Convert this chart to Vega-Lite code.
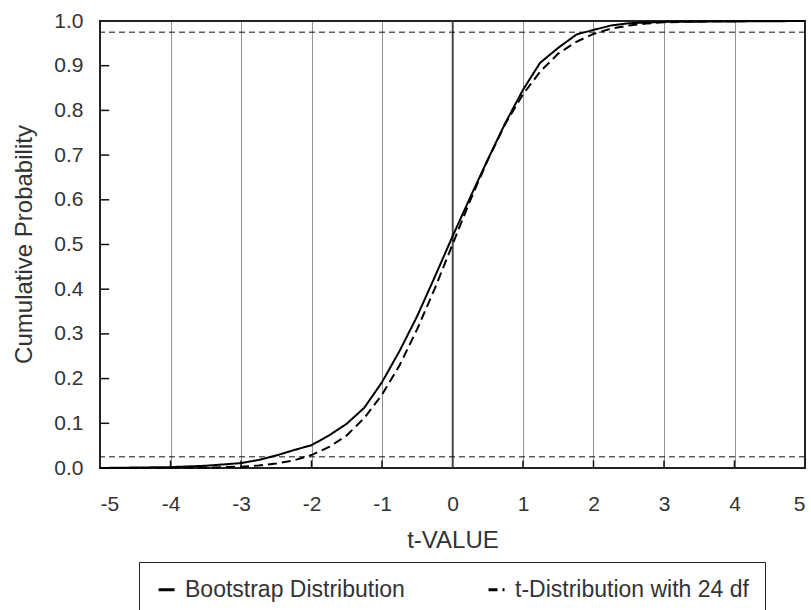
{
  "$schema": "https://vega.github.io/schema/vega-lite/v6.json",
  "width": 705,
  "height": 447,
  "autosize": {"type": "none"},
  "padding": {"left": 100, "top": 21, "right": 6, "bottom": 142},
  "background": "white",
  "config": {
    "view": {"stroke": "#222", "strokeWidth": 2},
    "font": "Liberation Sans",
    "axis": {
      "labelFont": "Liberation Sans",
      "titleFont": "Liberation Sans",
      "labelFontSize": 21,
      "titleFontSize": 24,
      "labelColor": "#333",
      "titleColor": "#333",
      "titleFontWeight": "normal",
      "domain": false,
      "ticks": false
    }
  },
  "datasets": {
    "curves": [
      {"t": -5, "p": 0.000, "series": "Bootstrap Distribution"},
      {"t": -4.5, "p": 0.001, "series": "Bootstrap Distribution"},
      {"t": -4, "p": 0.002, "series": "Bootstrap Distribution"},
      {"t": -3.5, "p": 0.005, "series": "Bootstrap Distribution"},
      {"t": -3, "p": 0.011, "series": "Bootstrap Distribution"},
      {"t": -2.75, "p": 0.018, "series": "Bootstrap Distribution"},
      {"t": -2.5, "p": 0.028, "series": "Bootstrap Distribution"},
      {"t": -2.25, "p": 0.040, "series": "Bootstrap Distribution"},
      {"t": -2, "p": 0.051, "series": "Bootstrap Distribution"},
      {"t": -1.75, "p": 0.073, "series": "Bootstrap Distribution"},
      {"t": -1.5, "p": 0.099, "series": "Bootstrap Distribution"},
      {"t": -1.25, "p": 0.135, "series": "Bootstrap Distribution"},
      {"t": -1, "p": 0.192, "series": "Bootstrap Distribution"},
      {"t": -0.75, "p": 0.262, "series": "Bootstrap Distribution"},
      {"t": -0.5, "p": 0.340, "series": "Bootstrap Distribution"},
      {"t": -0.25, "p": 0.428, "series": "Bootstrap Distribution"},
      {"t": 0, "p": 0.518, "series": "Bootstrap Distribution"},
      {"t": 0.25, "p": 0.605, "series": "Bootstrap Distribution"},
      {"t": 0.5, "p": 0.690, "series": "Bootstrap Distribution"},
      {"t": 0.75, "p": 0.772, "series": "Bootstrap Distribution"},
      {"t": 1, "p": 0.846, "series": "Bootstrap Distribution"},
      {"t": 1.24, "p": 0.906, "series": "Bootstrap Distribution"},
      {"t": 1.5, "p": 0.940, "series": "Bootstrap Distribution"},
      {"t": 1.76, "p": 0.970, "series": "Bootstrap Distribution"},
      {"t": 2, "p": 0.980, "series": "Bootstrap Distribution"},
      {"t": 2.25, "p": 0.990, "series": "Bootstrap Distribution"},
      {"t": 2.5, "p": 0.995, "series": "Bootstrap Distribution"},
      {"t": 3, "p": 0.998, "series": "Bootstrap Distribution"},
      {"t": 4, "p": 0.999, "series": "Bootstrap Distribution"},
      {"t": 5, "p": 1.000, "series": "Bootstrap Distribution"},
      {"t": -5, "p": 0.0000, "series": "t-Distribution with 24 df"},
      {"t": -4.5, "p": 0.0001, "series": "t-Distribution with 24 df"},
      {"t": -4, "p": 0.0003, "series": "t-Distribution with 24 df"},
      {"t": -3.5, "p": 0.0009, "series": "t-Distribution with 24 df"},
      {"t": -3, "p": 0.003, "series": "t-Distribution with 24 df"},
      {"t": -2.75, "p": 0.0055, "series": "t-Distribution with 24 df"},
      {"t": -2.5, "p": 0.010, "series": "t-Distribution with 24 df"},
      {"t": -2.25, "p": 0.017, "series": "t-Distribution with 24 df"},
      {"t": -2, "p": 0.029, "series": "t-Distribution with 24 df"},
      {"t": -1.75, "p": 0.047, "series": "t-Distribution with 24 df"},
      {"t": -1.5, "p": 0.073, "series": "t-Distribution with 24 df"},
      {"t": -1.25, "p": 0.112, "series": "t-Distribution with 24 df"},
      {"t": -1, "p": 0.164, "series": "t-Distribution with 24 df"},
      {"t": -0.75, "p": 0.230, "series": "t-Distribution with 24 df"},
      {"t": -0.5, "p": 0.311, "series": "t-Distribution with 24 df"},
      {"t": -0.25, "p": 0.402, "series": "t-Distribution with 24 df"},
      {"t": 0, "p": 0.500, "series": "t-Distribution with 24 df"},
      {"t": 0.25, "p": 0.598, "series": "t-Distribution with 24 df"},
      {"t": 0.5, "p": 0.689, "series": "t-Distribution with 24 df"},
      {"t": 0.75, "p": 0.770, "series": "t-Distribution with 24 df"},
      {"t": 1, "p": 0.836, "series": "t-Distribution with 24 df"},
      {"t": 1.25, "p": 0.888, "series": "t-Distribution with 24 df"},
      {"t": 1.5, "p": 0.927, "series": "t-Distribution with 24 df"},
      {"t": 1.75, "p": 0.953, "series": "t-Distribution with 24 df"},
      {"t": 2, "p": 0.971, "series": "t-Distribution with 24 df"},
      {"t": 2.25, "p": 0.983, "series": "t-Distribution with 24 df"},
      {"t": 2.5, "p": 0.990, "series": "t-Distribution with 24 df"},
      {"t": 2.75, "p": 0.9945, "series": "t-Distribution with 24 df"},
      {"t": 3, "p": 0.997, "series": "t-Distribution with 24 df"},
      {"t": 3.5, "p": 0.9991, "series": "t-Distribution with 24 df"},
      {"t": 4, "p": 0.9997, "series": "t-Distribution with 24 df"},
      {"t": 4.5, "p": 0.9999, "series": "t-Distribution with 24 df"},
      {"t": 5, "p": 1.0000, "series": "t-Distribution with 24 df"}
    ],
    "refs": [{"p": 0.025}, {"p": 0.975}],
    "zero": [{"t": 0}],
    "yticks": [{"p": 0.1}, {"p": 0.2}, {"p": 0.3}, {"p": 0.4}, {"p": 0.5}, {"p": 0.6}, {"p": 0.7}, {"p": 0.8}, {"p": 0.9}],
    "xticks": [{"t": -4}, {"t": -3}, {"t": -2}, {"t": -1}, {"t": 1}, {"t": 2}, {"t": 3}, {"t": 4}]
  },
  "layer": [
    {
      "data": {"name": "zero"},
      "mark": {"type": "rule", "color": "#444", "strokeWidth": 1.5},
      "encoding": {
        "x": {
          "field": "t", "type": "quantitative",
          "scale": {"domain": [-5, 5], "nice": false, "zero": false},
          "axis": {
            "values": [-5, -4, -3, -2, -1, 0, 1, 2, 3, 4, 5],
            "labelExpr": "'' + datum.value",
            "title": "t-VALUE",
            "grid": true,
            "gridDash": [1, 1],
            "gridColor": "#222",
            "gridWidth": 1,
            "labelPadding": 25,
            "titleY": 79,
            "titleBaseline": "alphabetic"
          }
        }
      }
    },
    {
      "data": {"name": "refs"},
      "mark": {"type": "rule", "color": "#111", "strokeWidth": 1, "strokeDash": [6, 4]},
      "encoding": {
        "y": {
          "field": "p", "type": "quantitative",
          "scale": {"domain": [0, 1], "nice": false},
          "axis": {
            "values": [0, 0.1, 0.2, 0.3, 0.4, 0.5, 0.6, 0.7, 0.8, 0.9, 1.0],
            "format": ".1f",
            "title": "Cumulative Probability",
            "grid": false,
            "labelPadding": 17,
            "titleX": -69,
            "titleY": 223,
            "titleBaseline": "alphabetic"
          }
        }
      }
    },
    {
      "data": {"name": "yticks"},
      "mark": {"type": "rule", "color": "#111", "strokeWidth": 1.5},
      "encoding": {
        "y": {"field": "p", "type": "quantitative"},
        "x": {"datum": -5},
        "x2": {"datum": -4.87}
      }
    },
    {
      "data": {"name": "xticks"},
      "mark": {"type": "rule", "color": "#111", "strokeWidth": 1.5},
      "encoding": {
        "x": {"field": "t", "type": "quantitative"},
        "y": {"datum": 0},
        "y2": {"datum": 0.017}
      }
    },
    {
      "data": {"name": "curves"},
      "mark": {"type": "line", "color": "black", "strokeWidth": 2},
      "encoding": {
        "x": {"field": "t", "type": "quantitative"},
        "y": {"field": "p", "type": "quantitative"},
        "strokeDash": {
          "field": "series", "type": "nominal",
          "scale": {
            "domain": ["Bootstrap Distribution", "t-Distribution with 24 df"],
            "range": [[1, 0], [9, 5]]
          },
          "legend": {
            "title": null,
            "orient": "none",
            "legendX": 39,
            "legendY": 541,
            "direction": "horizontal",
            "columns": 2,
            "gridAlign": "all",
            "columnPadding": 63,
            "padding": 16,
            "strokeColor": "#222",
            "fillColor": "white",
            "symbolType": "stroke",
            "symbolSize": 256,
            "symbolStrokeWidth": 3,
            "symbolStrokeColor": "black",
            "labelFont": "Liberation Sans",
            "labelFontSize": 23,
            "labelColor": "#333",
            "labelOffset": 7,
            "labelLimit": 400
          }
        }
      }
    }
  ]
}
